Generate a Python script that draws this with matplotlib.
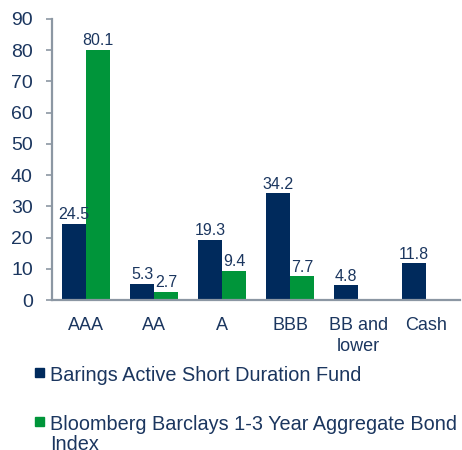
import numpy as np
import matplotlib
matplotlib.use("Agg")
import matplotlib.pyplot as plt
from matplotlib.patches import Rectangle

# Credit quality breakdown (%)
categories = ["AAA", "AA", "A", "BBB", "BB and\nlower", "Cash"]
fund = [24.5, 5.3, 19.3, 34.2, 4.8, 11.8]
index = [80.1, 2.7, 9.4, 7.7, np.nan, np.nan]
series_names = ["Barings Active Short Duration Fund",
                "Bloomberg Barclays 1-3 Year Aggregate Bond\nIndex"]
yticks = list(range(0, 91, 10))

navy = "#002a5c"
green = "#00953a"
text_col = "#1b365f"
axis_col = "#8c97a3"

plt.rcParams["font.family"] = ["Liberation Sans", "DejaVu Sans"]

fig = plt.figure(figsize=(4.62, 4.5), dpi=100)
ax = fig.add_axes([0.113, 0.333, 0.883, 0.625])

x = np.arange(len(categories))
w = 0.35
b1 = ax.bar(x - w / 2, fund, w, color=navy)
b2 = ax.bar(x + w / 2, index, w, color=green)

ax.bar_label(b1, labels=[f"{v:.1f}" for v in fund], padding=1,
             fontsize=11.5, color=text_col)
ax.bar_label(b2, labels=["" if np.isnan(v) else f"{v:.1f}" for v in index],
             padding=1, fontsize=11.5, color=text_col)

ax.set_xlim(-0.5, len(categories) - 0.5)
ax.set_ylim(0, 90)
ax.set_yticks(yticks)
ax.set_xticks(x)
ax.set_xticklabels(categories, linespacing=1.3)

for s in ["top", "right"]:
    ax.spines[s].set_visible(False)
for s in ["left", "bottom"]:
    ax.spines[s].set_color(axis_col)
    ax.spines[s].set_linewidth(1.6)

ax.tick_params(axis="y", length=4, width=1.2, color=axis_col, pad=10,
               labelsize=14, labelcolor=text_col)
ax.tick_params(axis="x", length=0, pad=12, labelsize=13, labelcolor=text_col)

# legend drawn by hand so the square lines up with the first text line
# (text top, square bottom) in figure fraction
leg_rows = [(0.187, 0.162, navy), (0.078, 0.053, green)]
for name, (yt, ysq, col) in zip(series_names, leg_rows):
    fig.add_artist(Rectangle((0.076, ysq), 0.019, 0.02,
                             transform=fig.transFigure, color=col))
    fig.text(0.108, yt, name, fontsize=14.3, color=text_col,
             va="top", ha="left", linespacing=1.1)

fig.savefig("out.png", dpi=100)
